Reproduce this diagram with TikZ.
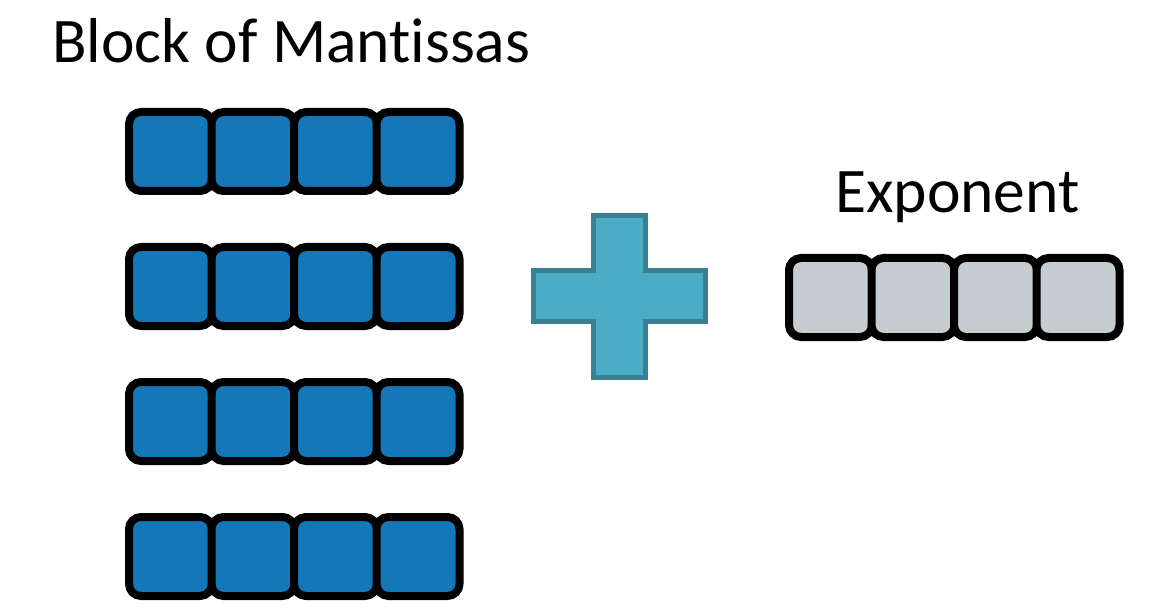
\documentclass[tikz,border=0pt]{standalone}
\usepackage{fontspec}
\setmainfont{Carlito}[Ligatures=NoCommon]
\definecolor{mantblue}{HTML}{1477B8}
\definecolor{expgray}{HTML}{C5CDD1}
\definecolor{plusfill}{HTML}{4BACC6}
\definecolor{plusedge}{HTML}{3A8093}
\tikzset{
  bitcell/.style={rectangle, draw=black, line width=8pt, rounded corners=12pt,
    minimum width=83pt, minimum height=79pt, inner sep=0pt},
  mantcell/.style={bitcell, fill=mantblue},
  expcell/.style={bitcell, fill=expgray},
  heading/.style={font=\fontsize{63.5}{76}\selectfont, inner sep=0pt, anchor=base west}
}
\begin{document}
\begin{tikzpicture}[x=1pt,y=-1pt]
  \useasboundingbox (0,0) rectangle (1156,612);
  % headings
  \node[heading] (blocklabel) at (52,63) {Block of Mantissas};
  \node[heading] (explabel) at (835,213) {Exponent};
  % block of mantissas: four rows of four cells
  \foreach \r/\y in {1/151.5, 2/286.5, 3/421.5, 4/556.5} {
    \foreach \c/\x in {1/170.5, 2/253, 3/335.5, 4/418} {
      \node[mantcell] (m\r\c) at (\x,\y) {};
    }
  }
  % shared exponent
  \foreach \c/\x in {1/830.5, 2/913, 3/995.5, 4/1078} {
    \node[expcell] (e\c) at (\x,297.5) {};
  }
  % plus sign
  \draw[fill=plusfill, draw=plusedge, line width=5pt]
    (593.5,215.5) -- (645.5,215.5) -- (645.5,270.5) -- (705.5,270.5)
    -- (705.5,321.5) -- (645.5,321.5) -- (645.5,377.5) -- (593.5,377.5)
    -- (593.5,321.5) -- (533.5,321.5) -- (533.5,270.5) -- (593.5,270.5) -- cycle;
\end{tikzpicture}
\end{document}
